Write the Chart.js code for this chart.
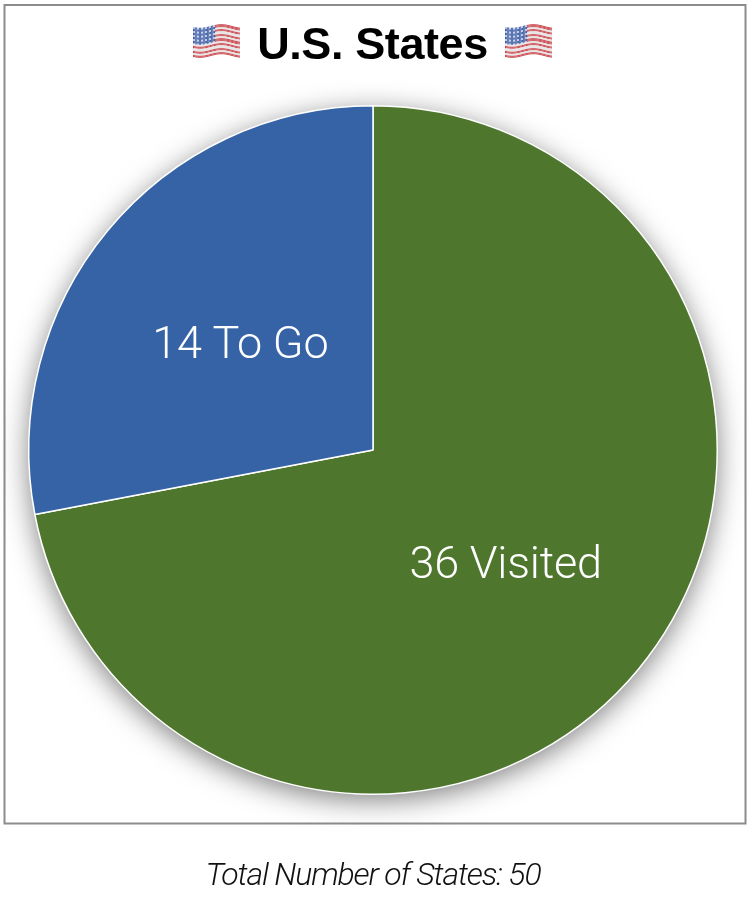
<!DOCTYPE html>
<html><head><meta charset="utf-8">
<style>html,body{margin:0;padding:0;background:#fff}
#wrap{position:absolute;left:0;top:0;width:750px;height:902px}
canvas{position:absolute;left:0;top:0}</style>
<script src="https://cdn.jsdelivr.net/npm/chart.js@4"></script></head>
<body><div id="wrap"><canvas id="c" width="750" height="902"></canvas></div>
<script>
const categories=['36 Visited','14 To Go'];
const stateCounts=[36,14];
const sliceColors=['#4e772d','#3563a6'];
const titleText='U.S. States';
const footnoteText='Total Number of States: 50';
const framePlugin={id:'frame',beforeDraw(ch){const x=ch.ctx;x.save();x.strokeStyle='#8c8c8c';x.lineWidth=2;x.strokeRect(4.5,5,741,818.5);x.restore();}};
const shadowPlugin={id:'shadow',beforeDatasetsDraw(ch){const x=ch.ctx;const a=ch.getDatasetMeta(0).data[0];x.save();x.shadowColor='rgba(0,0,0,0.5)';x.shadowBlur=28;x.shadowOffsetY=6;x.fillStyle='#4e772d';x.beginPath();x.arc(a.x,a.y,a.outerRadius,0,Math.PI*2);x.fill();x.restore();}};
function flag(x,fx,fy){const w=47,h=30;
 for(let i=0;i<w;i++){const off=Math.sin(i/w*Math.PI*2.2+0.6)*1.8+2;
  for(let j=0;j<h;j++){const s=Math.floor(j/h*13);
   let col=s%2?'#e6dfe0':'#c9474d';
   if(i<w*0.45&&j<h*7/13){col='#3a5aa3';if((i%4<2)&&(j%4<2))col='#b9c6e4';}
   x.fillStyle=col;x.fillRect(fx+i,fy+j+off,1,1);}}
}
const textPlugin={id:'labels',afterDraw(ch){const x=ch.ctx;const m=ch.getDatasetMeta(0).data;x.save();x.textAlign='center';x.textBaseline='alphabetic';
x.fillStyle='#fff';x.font='300 45px Roboto';x.letterSpacing='-0.2px';
[0,1].forEach(i=>{const a=m[i];const mid=(a.startAngle+a.endAngle)/2;const r=a.outerRadius*0.5;x.fillText(categories[i],a.x+Math.cos(mid)*r,a.y+Math.sin(mid)*r+18);});
x.letterSpacing='-0.4px';x.fillStyle='#000';x.font='bold 45px "Liberation Sans"';x.fillText(titleText,372.5,59);
x.letterSpacing='-1.15px';x.font='italic 300 32px Roboto';x.fillStyle='#111';x.fillText(footnoteText,373,885);
x.restore();
flag(x,193,24);flag(x,505,24);
}};
new Chart(document.getElementById('c'),{type:'pie',data:{labels:categories,datasets:[{data:stateCounts,backgroundColor:sliceColors,borderColor:'#fff',borderWidth:1.5}]},
options:{responsive:false,animation:false,rotation:0,layout:{padding:{left:28,right:32,top:105,bottom:107}},plugins:{legend:{display:false},tooltip:{enabled:false},title:{display:false}}},plugins:[framePlugin,shadowPlugin,textPlugin]});
</script></body></html>
